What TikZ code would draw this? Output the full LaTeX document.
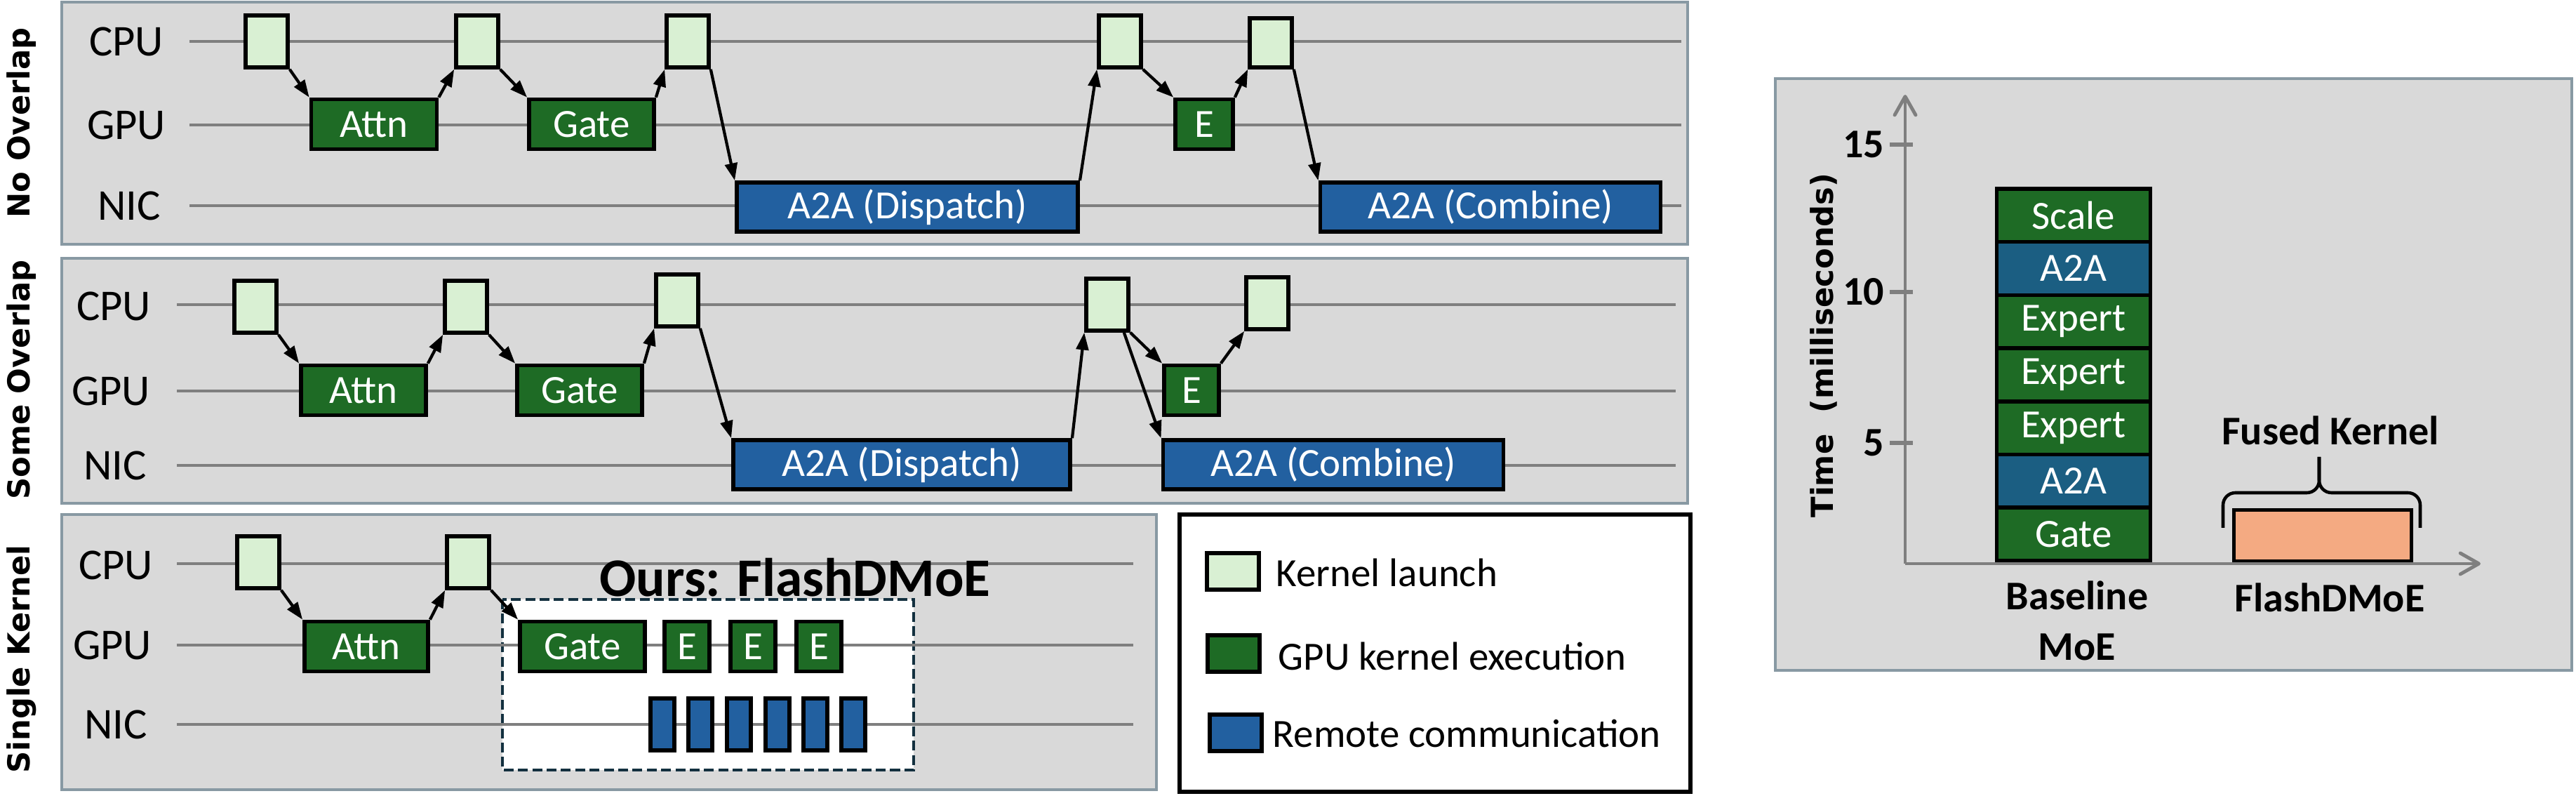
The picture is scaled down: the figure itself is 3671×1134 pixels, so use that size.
\documentclass[tikz,border=0pt]{standalone}
\usepackage{fontspec}
\setmainfont{Carlito}
\newfontfamily\dejavu{DejaVu Sans}
\usetikzlibrary{arrows.meta}

\definecolor{panelgray}{HTML}{D9D9D9}
\definecolor{panelrim}{HTML}{8899A3}
\definecolor{lanegray}{HTML}{7F7F7F}
\definecolor{launchgreen}{HTML}{D9F0D3}
\definecolor{gpugreen}{HTML}{1E6B25}
\definecolor{nicblue}{HTML}{2260A0}
\definecolor{chartblue}{HTML}{1B5E82}
\definecolor{salmon}{HTML}{F4AA82}
\definecolor{oursline}{HTML}{13303F}

\tikzset{
	panel/.style={draw=panelrim, fill=panelgray, line width=1.4pt},
	lane/.style={draw=lanegray, line width=1.4pt},
	row/.style={inner sep=0pt, font=\fontsize{17.8}{20}\selectfont},
	side/.style={rotate=90, anchor=base, inner sep=0pt, font=\dejavu\bfseries\fontsize{12.3}{15}\selectfont},
	launch/.style={draw, line width=1.6pt, fill=launchgreen, minimum width=0.60cm, minimum height=0.74cm, inner sep=0pt},
	kern/.style={draw, line width=1.6pt, fill=gpugreen, text=white, minimum height=0.71cm, inner sep=0pt, font=\fontsize{16.2}{19}\selectfont},
	comm/.style={kern, fill=nicblue, minimum height=0.70cm},
	call/.style={-{Triangle[length=7pt,width=5pt]}, line width=1.2pt},
	key/.style={anchor=west, inner sep=0pt, font=\fontsize{16.2}{19}\selectfont},
	axis/.style={draw=lanegray, line width=1.4pt},
	bold/.style={inner sep=0pt, font=\bfseries\fontsize{16.5}{20.5}\selectfont},
}

\begin{document}
\begin{tikzpicture}[x=0.01cm,y=-0.01cm]
	
	\useasboundingbox (0,0) rectangle (3671,1134);
	
	% no overlap
	\draw[panel] (88,3) rectangle (2405,348);
	\node[side] (nSide) at (42,175) {No Overlap};
	\node[row] (nCPU) at (180,59) {CPU};
	\node[row] (nGPU) at (180,178) {GPU};
	\node[row] (nNIC) at (184,293) {NIC};
	\draw[lane] (270,59) -- (2396,59);
	\draw[lane] (270,178) -- (2396,178);
	\draw[lane] (270,293) -- (2396,293);
	
	\node[launch] (nL1) at (380,59) {};
	\node[launch] (nL2) at (680,59) {};
	\node[launch] (nL3) at (980,59) {};
	\node[launch] (nL4) at (1596,59) {};
	\node[launch, minimum height=0.70cm] (nL5) at (1811,61) {};
	\node[kern, minimum width=1.79cm] (nAttn) at (533,177) {Attn};
	\node[kern, minimum width=1.78cm] (nGate) at (843,177) {Gate};
	\node[kern, minimum width=0.82cm] (nE) at (1716,177) {E};
	\node[comm, minimum width=4.86cm] (nDisp) at (1293,295) {A2A (Dispatch)};
	\node[comm, minimum width=4.85cm] (nComb) at (2124,295) {A2A (Combine)};
	
	\draw[call] (nL1.south east) -- (nAttn.north west);
	\draw[call] (nAttn.north east) -- (nL2.south west);
	\draw[call] (nL2.south east) -- (nGate.north west);
	\draw[call] (nGate.north east) -- (nL3.south west);
	\draw[call] (nL3.south east) -- (nDisp.north west);
	\draw[call] (nDisp.north east) -- (nL4.south west);
	\draw[call] (nL4.south east) -- (nE.north west);
	\draw[call] (nE.north east) -- (nL5.south west);
	\draw[call] (nL5.south east) -- (nComb.north west);
	
	% some overlap
	\draw[panel] (88,368) rectangle (2405,717);
	\node[side] (sSide) at (42,541) {Some Overlap};
	\node[row] (sCPU) at (162,436) {CPU};
	\node[row] (sGPU) at (158,557) {GPU};
	\node[row] (sNIC) at (164,663) {NIC};
	\draw[lane] (252,434) -- (2388,434);
	\draw[lane] (252,557) -- (2388,557);
	\draw[lane] (252,663) -- (2388,663);
	
	\node[launch] (sL1) at (364,437) {};
	\node[launch] (sL2) at (664,437) {};
	\node[launch] (sL3) at (965,428) {};
	\node[launch] (sL4) at (1578,434) {};
	\node[launch] (sL5) at (1806,432) {};
	\node[kern, minimum width=1.78cm] (sAttn) at (518,556) {Attn};
	\node[kern, minimum width=1.78cm] (sGate) at (826,556) {Gate};
	\node[kern, minimum width=0.78cm] (sE) at (1698,556) {E};
	\node[comm, minimum width=4.80cm] (sDisp) at (1285,662) {A2A (Dispatch)};
	\node[comm, minimum width=4.85cm] (sComb) at (1900,662) {A2A (Combine)};
	
	\draw[call] (sL1.south east) -- (sAttn.north west);
	\draw[call] (sAttn.north east) -- (sL2.south west);
	\draw[call] (sL2.south east) -- (sGate.north west);
	\draw[call] (sGate.north east) -- (sL3.south west);
	\draw[call] (sL3.south east) -- (sDisp.north west);
	\draw[call] (sDisp.north east) -- (sL4.south west);
	\draw[call] (sL4.south east) -- (sE.north west);
	\draw[call] ([xshift=-0.09cm]sL4.south east) -- (sComb.north west);
	\draw[call] (sE.north east) -- (sL5.south west);
	
	% single kernel
	\draw[panel] (88,733) rectangle (1648,1125);
	\node[side] (kSide) at (42,939) {Single Kernel};
	\draw[fill=white, draw=oursline, line width=1.1pt, dash pattern=on 4pt off 1.8pt] (716,854) rectangle (1302,1097);
	\node[row] (kCPU) at (165,805) {CPU};
	\node[row] (kGPU) at (160,919) {GPU};
	\node[row] (kNIC) at (165,1032) {NIC};
	\draw[lane] (252,803) -- (1615,803);
	\draw[lane] (252,919) -- (1615,919);
	\draw[lane] (252,1032) -- (1615,1032);
	\node[anchor=base, inner sep=0pt, font=\bfseries\fontsize{22}{26}\selectfont] (kTitle) at (1133,850) {Ours: FlashDMoE};
	
	\node[launch] (kL1) at (368,801) {};
	\node[launch] (kL2) at (667,801) {};
	\node[kern, minimum width=1.76cm] (kAttn) at (522,921) {Attn};
	\node[kern, minimum width=1.78cm] (kGate) at (830,921) {Gate};
	\node[kern, minimum width=0.64cm] (kE1) at (979,921) {E};
	\node[kern, minimum width=0.64cm] (kE2) at (1073,921) {E};
	\node[kern, minimum width=0.64cm] (kE3) at (1167,921) {E};
	\foreach \i/\x in {1/944,2/998,3/1053,4/1108,5/1162,6/1216}
		\node[comm, minimum width=0.34cm, minimum height=0.74cm] (kC\i) at (\x,1032) {};
	
	\draw[call] (kL1.south east) -- (kAttn.north west);
	\draw[call] (kAttn.north east) -- (kL2.south west);
	\draw[call] (kL2.south east) -- (kGate.north west);
	
	% legend
	\draw[line width=1.5pt, fill=white] (1681,733) rectangle (2409,1128);
	\node[launch, minimum width=0.74cm, minimum height=0.52cm] (gL) at (1757,814) {};
	\node[kern, minimum width=0.74cm, minimum height=0.52cm] (gK) at (1758,931) {};
	\node[comm, minimum width=0.74cm, minimum height=0.52cm] (gC) at (1761,1044) {};
	\node[key] (gLt) at (1818,816) {Kernel launch};
	\node[key] (gKt) at (1821,935) {GPU kernel execution};
	\node[key] (gCt) at (1813,1045) {Remote communication};
	
	% time chart
	\draw[panel] (2530,112) rectangle (3665,955);
	\node[side] (tTime) at (2612,492) {Time\ \ (milliseconds)};
	\foreach \lbl/\clr [count=\i from 0] in {Gate/gpugreen,A2A/chartblue,Expert/gpugreen,Expert/gpugreen,Expert/gpugreen,A2A/chartblue,Scale/gpugreen}
		\node[kern, fill=\clr, minimum width=2.19cm, minimum height=0.757cm] (bar\i) at (2955,{761-75.7*\i}) {\lbl};
	\node[draw, line width=1.6pt, fill=salmon, minimum width=2.53cm, minimum height=0.73cm] (fused) at (3310,763) {};
	\draw[line width=1.3pt, rounded corners=5pt] (3168,752) -- (3168,702) -- (3305,702) -- (3305,651);
	\draw[line width=1.3pt, rounded corners=5pt] (3305,651) -- (3305,702) -- (3449,702) -- (3449,752);
	
	\coordinate (origin) at (2715,803);
	\draw[axis, -{Straight Barb[length=7.5pt,width=8.5pt,round]}] (origin) -- (2715,135);
	\draw[axis, -{Straight Barb[length=7.5pt,width=8.5pt,round]}] (origin) -- (3535,803);
	\foreach \y/\v in {206/15,416/10,631/5}{
		\draw[axis, line width=1.7pt] (2693,\y) -- (2726,\y);
		\node[bold, anchor=east] (t\v) at (2686,\y) {\v};
	}
	
	\node[bold, anchor=base] (fk) at (3321,634) {Fused Kernel};
	\node[bold, align=center] (base) at (2960,884) {Baseline\\MoE};
	\node[bold, anchor=base] (ours) at (3320,872) {FlashDMoE};
	
\end{tikzpicture}
\end{document}
